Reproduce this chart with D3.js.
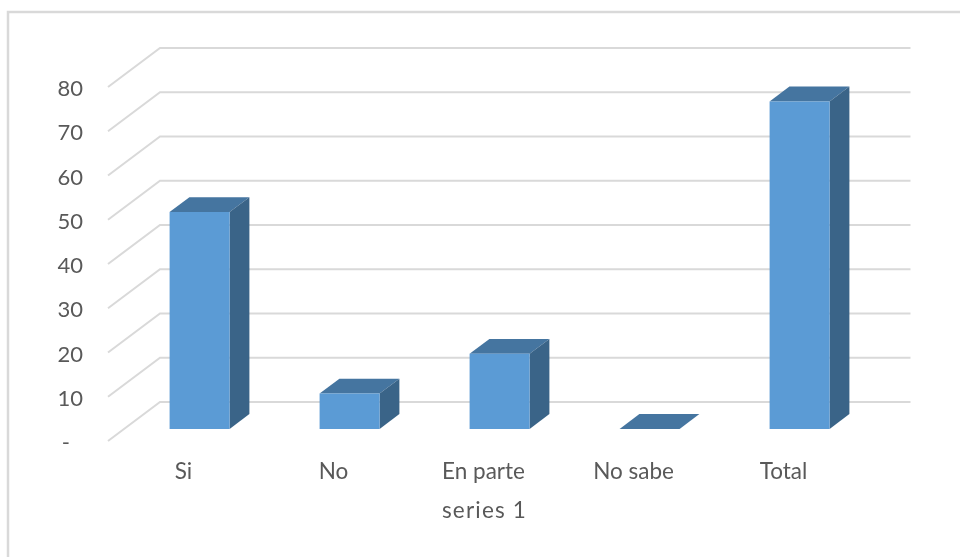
<!DOCTYPE html>
<html>
<head>
<meta charset="utf-8">
<script src="https://cdn.jsdelivr.net/npm/d3@7"></script>
<style>
  html, body { margin: 0; padding: 0; background: #fff; }
  svg { display: block; filter: blur(0.5px); }
  text { font-family: Lato, "Open Sans", sans-serif; fill: #595959; }
</style>
</head>
<body>
<svg width="960" height="557"></svg>
<script>
var categories = ['Si', 'No', 'En parte', 'No sabe', 'Total'];
var values = [49, 8, 17, 0, 74];
var yTicks = [0, 10, 20, 30, 40, 50, 60, 70, 80];
var axisTitle = 'series 1';

var svg = d3.select('svg');

// depth of the 3d box, in pixels
var depthX = 52;
var depthY = 39;
// bars sit between these fractions of the depth
var barFront = 0.31;
var barBack = 0.69;

var x = d3.scaleBand().domain(categories).range([108.5, 858.5]).paddingInner(0).paddingOuter(0);
var y = d3.scaleLinear().domain([0, 80]).range([441, 87]);
var barWidth = 60;

// front plane -> picture
var px = function(xv, z) { return xv + depthX * z; };
var py = function(v, z) { return y(v) - depthY * z; };
var poly = function(pts) {
  return pts.map(function(p) { return p[0].toFixed(1) + ',' + p[1].toFixed(1); }).join(' ');
};

// chart frame
svg.append('rect')
  .attr('x', 8).attr('y', 12)
  .attr('width', 980).attr('height', 570)
  .attr('fill', '#fff')
  .attr('stroke', '#d9d9d9')
  .attr('stroke-width', 2.5);

// gridlines: side wall + back wall
var wallLeft = 108;
var wallRight = 858.5;
svg.append('g').selectAll('polyline')
  .data(yTicks)
  .enter().append('polyline')
  .attr('fill', 'none')
  .attr('stroke', '#d9d9d9')
  .attr('stroke-width', 2)
  .attr('points', function(d) {
    return poly([[wallLeft, y(d)], [px(wallLeft, 1), py(d, 1)], [px(wallRight, 1), py(d, 1)]]);
  });

// y axis labels
var yAxis = d3.axisLeft(y)
  .tickValues(yTicks)
  .tickSize(0)
  .tickPadding(0)
  .tickFormat(function(d) { return d === 0 ? '-' : d; });

var yG = svg.append('g').attr('transform', 'translate(83,1)').call(yAxis);
yG.select('.domain').remove();
yG.selectAll('text')
  .style('font-size', '22px')
  .attr('dy', '0.35em');
// the dash sits left of the digits
yG.selectAll('.tick').filter(function(d) { return d === 0; })
  .select('text').attr('x', -13);

// bars
var bars = svg.append('g').selectAll('g')
  .data(categories.map(function(c, i) { return { cat: c, val: values[i] }; }))
  .enter().append('g');

var left = function(d) { return x(d.cat) + x.bandwidth() / 2 - barWidth / 2; };
var right = function(d) { return left(d) + barWidth; };

// top face
bars.append('polygon')
  .attr('fill', '#4575a0')
  .attr('points', function(d) {
    return poly([
      [px(left(d), barFront), py(d.val, barFront)],
      [px(right(d), barFront), py(d.val, barFront)],
      [px(right(d), barBack), py(d.val, barBack)],
      [px(left(d), barBack), py(d.val, barBack)]
    ]);
  });

// side face
bars.filter(function(d) { return d.val > 0; }).append('polygon')
  .attr('fill', '#3a6488')
  .attr('points', function(d) {
    return poly([
      [px(right(d), barFront), py(d.val, barFront)],
      [px(right(d), barBack), py(d.val, barBack)],
      [px(right(d), barBack), py(0, barBack)],
      [px(right(d), barFront), py(0, barFront)]
    ]);
  });

// front face
bars.filter(function(d) { return d.val > 0; }).append('polygon')
  .attr('fill', '#5b9bd5')
  .attr('points', function(d) {
    return poly([
      [px(left(d), barFront), py(d.val, barFront)],
      [px(right(d), barFront), py(d.val, barFront)],
      [px(right(d), barFront), py(0, barFront)],
      [px(left(d), barFront), py(0, barFront)]
    ]);
  });

// category labels
var xAxis = d3.axisBottom(x).tickSize(0).tickPadding(0);
var xG = svg.append('g').attr('transform', 'translate(0,471)').call(xAxis);
xG.select('.domain').remove();
xG.selectAll('text')
  .style('font-size', '22.5px')
  .attr('y', 0)
  .attr('dy', '0.35em');

// axis title
svg.append('text')
  .attr('x', 484.5)
  .attr('y', 510)
  .attr('dy', '0.35em')
  .attr('text-anchor', 'middle')
  .style('font-size', '22.5px')
  .style('letter-spacing', '1.2px')
  .text(axisTitle);
</script>
</body>
</html>
